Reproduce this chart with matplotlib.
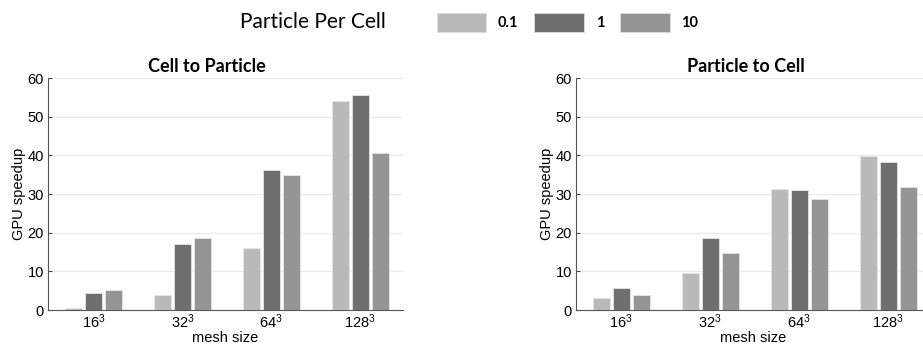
import numpy as np
import matplotlib
matplotlib.use("Agg")
import matplotlib.pyplot as plt
from matplotlib.patches import Patch

# ==========================================
# Data
# ==========================================

mesh_labels = ["16$^3$", "32$^3$", "64$^3$", "128$^3$"]
ppc_labels = ["0.1", "1", "10"]
ppc_colors = ["#b9b9b9", "#6e6e6e", "#959595"]

c2p_speedup = [
    [0.5, 4.0, 16.1, 54.0],   # 0.1
    [4.5, 17.2, 36.3, 55.5],  # 1
    [5.3, 18.7, 35.0, 40.5],  # 10
]

p2c_speedup = [
    [3.0, 9.6, 31.3, 39.8],
    [5.7, 18.5, 31.1, 38.3],
    [3.8, 14.8, 28.7, 31.8],
]

plt.rcParams["font.family"] = ["Liberation Sans", "DejaVu Sans"]
plt.rcParams["mathtext.default"] = "regular"

fig = plt.figure(figsize=(9.23, 3.46), dpi=100)

ax_left = fig.add_axes([0.052, 0.104, 0.3846, 0.6705])
ax_right = fig.add_axes([0.624, 0.104, 0.3846, 0.6705])

x = np.arange(1, len(mesh_labels) + 1)
offsets = [-0.225, 0.0, 0.225]


def draw_panel(ax, values, title, title_x):
    for i in range(len(ppc_labels)):
        ax.bar(
            x + offsets[i],
            values[i],
            width=0.19,
            color=ppc_colors[i],
            edgecolor="#e6e6e6",
            linewidth=0.6,
            zorder=3
        )

    ax.set_xlim(0.49, 4.48)
    ax.set_ylim(0, 60)
    ax.set_yticks(range(0, 61, 10))
    ax.set_xticks(x)
    ax.set_xticklabels(mesh_labels, fontsize=10.5)
    ax.tick_params(axis="y", labelsize=10.5, direction="in", length=3,
                   color="#444444", pad=3)
    ax.tick_params(axis="x", direction="in", length=0, pad=2)
    ax.grid(axis="y", color="#ebebeb", linewidth=0.9, zorder=0)
    ax.set_axisbelow(True)

    for side in ["top", "right"]:
        ax.spines[side].set_visible(False)
    for side in ["left", "bottom"]:
        ax.spines[side].set_color("#555555")
        ax.spines[side].set_linewidth(0.8)

    ax.set_xlabel("mesh size", fontsize=10.5, labelpad=0)
    ax.set_ylabel("GPU speedup", fontsize=10.5, labelpad=1)
    ax.set_title(title, fontsize=13, fontweight="bold",
                 family=["Lato", "DejaVu Sans"], x=title_x, pad=4)


draw_panel(ax_left, c2p_speedup, "Cell to Particle", 0.448)
draw_panel(ax_right, p2c_speedup, "Particle to Cell", 0.48)

# ==========================================
# Legend
# ==========================================

fig.text(0.26, 0.935, "Particle Per Cell", fontsize=15,
         family=["Lato", "DejaVu Sans"], va="center", ha="left")

handles = [Patch(facecolor=c, edgecolor="#dddddd", linewidth=0.6)
           for c in ppc_colors]
fig.legend(
    handles,
    ppc_labels,
    loc="center left",
    bbox_to_anchor=(0.473, 0.935),
    ncol=3,
    frameon=False,
    prop={"weight": "bold", "size": 10.5, "family": "Lato"},
    handlelength=3.4,
    handleheight=1.6,
    handletextpad=0.8,
    columnspacing=1.1,
    borderpad=0,
    borderaxespad=0
)

fig.savefig("out.png", dpi=100)
